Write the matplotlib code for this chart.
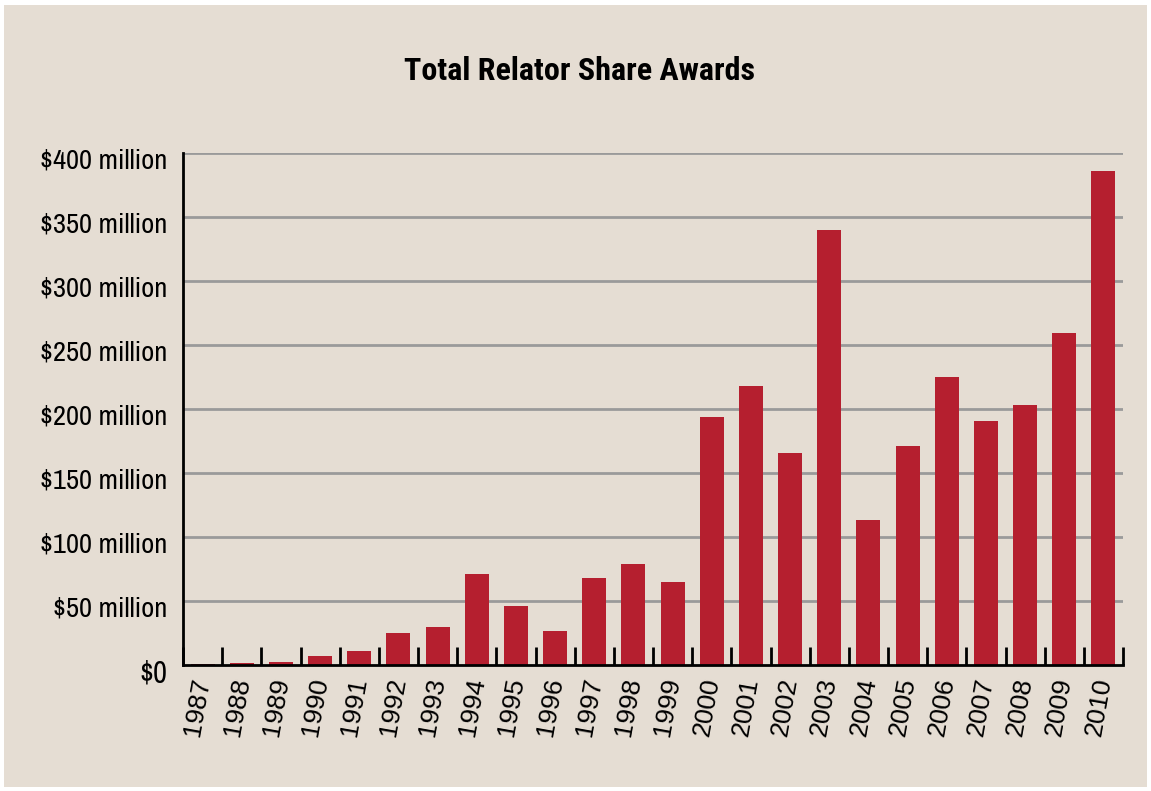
import matplotlib.pyplot as plt
from matplotlib.patches import Rectangle
from matplotlib.ticker import FixedLocator
import matplotlib.transforms as mtransforms

# data (millions of dollars)
years = [str(y) for y in range(1987, 2011)]
awards = [1, 1.3, 2, 7, 11, 25, 30, 71, 46, 26.5, 68, 79, 65,
          194, 218, 166, 340, 113, 171, 225, 191, 203, 259, 386]
y_ticks = [0, 50, 100, 150, 200, 250, 300, 350, 400]
y_labels = ["$0"] + ["$%d million" % v for v in y_ticks[1:]]

bg = "#e5ddd3"
bar_col = "#b51f2f"
narrow = ["Archivo Narrow", "DejaVu Sans"]
narrow_bold = ["Roboto Condensed", "Barlow Semi Condensed", "DejaVu Sans"]

fig = plt.figure(figsize=(11.51, 7.91), dpi=100, facecolor="white")
fig.patches.append(Rectangle((4/1151, 4/791), 1143/1151, 782/791,
                             transform=fig.transFigure, facecolor=bg,
                             edgecolor="none", zorder=-10))

ax = fig.add_axes([183/1151, 1-665/791, 940/1151, 512/791])
ax.set_facecolor("none")

x = list(range(len(years)))
ax.bar(x, awards, width=0.61, color=bar_col, zorder=3)

ax.set_xlim(-0.5, len(years)-0.5)
ax.set_ylim(0, 400)

for v in y_ticks[1:]:
    ax.axhline(v, color="#9a9a9a", lw=2, zorder=1)

for s in ["top", "right"]:
    ax.spines[s].set_visible(False)
for s in ["left", "bottom"]:
    ax.spines[s].set_color("black")
    ax.spines[s].set_linewidth(2)
    ax.spines[s].set_zorder(4)

ax.set_yticks(y_ticks)
ax.set_yticklabels(y_labels, family=narrow, fontsize=20.5)
ax.tick_params(axis="y", length=0, pad=11.5)
for lab in ax.get_yticklabels():
    lab.set_transform(lab.get_transform() + mtransforms.ScaledTranslation(0, -6/100, fig.dpi_scale_trans))
ax.get_yticklabels()[0].set_fontsize(22)

# ticks at category boundaries, pointing up
ax.xaxis.set_major_locator(FixedLocator([i - 0.5 for i in range(len(years)+1)]))
ax.tick_params(axis="x", which="major", direction="in", length=13, width=2, color="black", labelbottom=False)
ax.set_xticks(x, minor=True)
ax.set_xticklabels(years, minor=True, rotation=80, fontsize=19,
                   family=["Liberation Sans", "DejaVu Sans"], ha="center", va="top")
ax.tick_params(axis="x", which="minor", length=0, pad=8)
for lab in ax.get_xticklabels(minor=True):
    lab.set_transform(lab.get_transform() + mtransforms.ScaledTranslation(-5/100, 0, fig.dpi_scale_trans))

fig.text(580/1151, 1-71/791, "Total Relator Share Awards", ha="center", va="center",
         fontsize=23, fontweight="bold", family=narrow_bold)

fig.savefig("out.png", dpi=100, facecolor="white")
